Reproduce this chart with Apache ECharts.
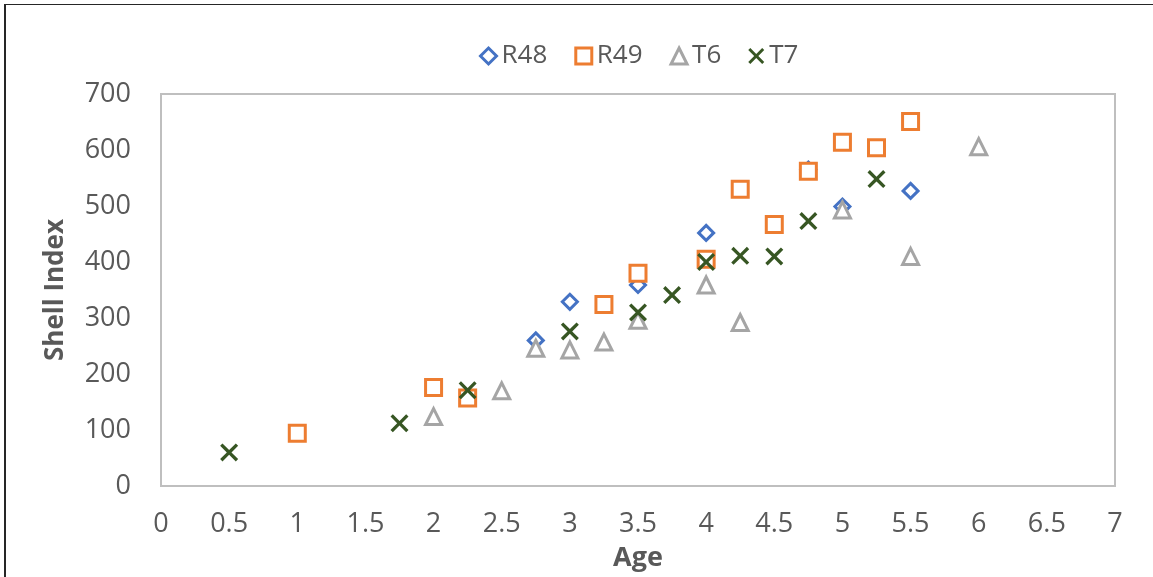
<!DOCTYPE html>
<html>
<head>
<meta charset="utf-8">
<script src="https://cdn.jsdelivr.net/npm/echarts@6/dist/echarts.min.js"></script>
<style>
  html, body { margin: 0; padding: 0; background: #fff; }
  #frame { position: absolute; left: 4px; top: 4px; width: 1149px; height: 573px;
           border-left: 2px solid #262626; border-top: 1px solid #262626; box-sizing: border-box; }
  #chart { position: absolute; left: 0; top: 0; width: 1153px; height: 577px; }
</style>
</head>
<body>
<div id="chart"></div>
<div id="frame"></div>
<script>
// Shell index by age for four sampling sites
const seriesNames = ['R48', 'R49', 'T6', 'T7'];

const r48Age   = [2.75, 3.0, 3.5, 4.0, 4.75, 5.0, 5.5];
const r48Index = [260, 329, 359, 452, 565, 499, 527];

const r49Age   = [1.0, 2.0, 2.25, 3.25, 3.5, 4.0, 4.25, 4.5, 4.75, 5.0, 5.25, 5.5];
const r49Index = [94, 176, 157, 324, 380, 405, 530, 467, 562, 614, 604, 651];

const t6Age    = [2.0, 2.5, 2.75, 3.0, 3.25, 3.5, 4.0, 4.25, 5.0, 5.5, 6.0];
const t6Index  = [124, 170, 246, 243, 257, 296, 359, 292, 493, 410, 606];

const t7Age    = [0.5, 1.75, 2.25, 3.0, 3.5, 3.75, 4.0, 4.25, 4.5, 4.75, 5.25];
const t7Index  = [60, 112, 171, 276, 310, 341, 400, 411, 410, 473, 548];

const colors = ['#4472C4', '#ED7D31', '#A5A5A5', '#375623'];
const crossPath = 'path://M0,1.3 L1.3,0 L5,3.7 L8.7,0 L10,1.3 L6.3,5 L10,8.7 L8.7,10 L5,6.3 L1.3,10 L0,8.7 L3.7,5 Z';

function pairs(xs, ys) { return xs.map((x, i) => [x, ys[i]]); }

const textColor = '#595959';
const font = '"Open Sans", "DejaVu Sans", sans-serif';

function hollow(name, symbol, size, color, xs, ys) {
  return {
    name, type: 'scatter', symbol, symbolSize: size,
    itemStyle: { color: '#fff', borderColor: color, borderWidth: 3, opacity: 1 },
    data: pairs(xs, ys)
  };
}

const chart = echarts.init(document.getElementById('chart'), null, { renderer: 'canvas' });
chart.setOption({
  animation: false,
  backgroundColor: '#fff',
  legend: {
    top: 38, left: 474,
    itemGap: 27, itemWidth: 16, itemHeight: 16,
    textStyle: { color: textColor, fontSize: 26, fontFamily: font, padding: [0, 0, 0, 0] },
    data: [
      { name: 'R48', icon: 'diamond', itemStyle: { color: '#fff', borderColor: colors[0], borderWidth: 3 } },
      { name: 'R49', icon: 'rect', itemStyle: { color: '#fff', borderColor: colors[1], borderWidth: 3 } },
      { name: 'T6', icon: 'triangle', itemStyle: { color: '#fff', borderColor: colors[2], borderWidth: 3 } },
      { name: 'T7', icon: crossPath, itemStyle: { color: colors[3], borderWidth: 0 } }
    ]
  },
  grid: { left: 161, right: 38, top: 94, bottom: 88, show: true, borderColor: '#BFBFBF', borderWidth: 2 },
  xAxis: {
    type: 'value', min: 0, max: 7, interval: 0.5,
    name: 'Age', nameLocation: 'middle', nameGap: 59,
    nameTextStyle: { color: textColor, fontSize: 27, fontWeight: 'bold', fontFamily: font },
    axisLine: { show: false }, axisTick: { show: false }, splitLine: { show: false },
    axisLabel: { color: textColor, fontSize: 27, fontFamily: font, margin: 25 }
  },
  yAxis: {
    type: 'value', min: 0, max: 700, interval: 100,
    name: 'Shell Index', nameLocation: 'middle', nameGap: 92, nameRotate: 90,
    nameTextStyle: { color: textColor, fontSize: 26, fontWeight: 'bold', fontFamily: font },
    axisLine: { show: false }, axisTick: { show: false }, splitLine: { show: false },
    axisLabel: { color: textColor, fontSize: 27, fontFamily: font, margin: 30 }
  },
  series: [
    hollow('R48', 'diamond', 15, colors[0], r48Age, r48Index),
    hollow('R49', 'rect', 16, colors[1], r49Age, r49Index),
    hollow('T6', 'triangle', 16, colors[2], t6Age, t6Index),
    {
      name: 'T7', type: 'scatter', symbol: crossPath, symbolSize: 18,
      itemStyle: { color: colors[3], opacity: 1 },
      data: pairs(t7Age, t7Index)
    }
  ]
});
</script>
</body>
</html>
